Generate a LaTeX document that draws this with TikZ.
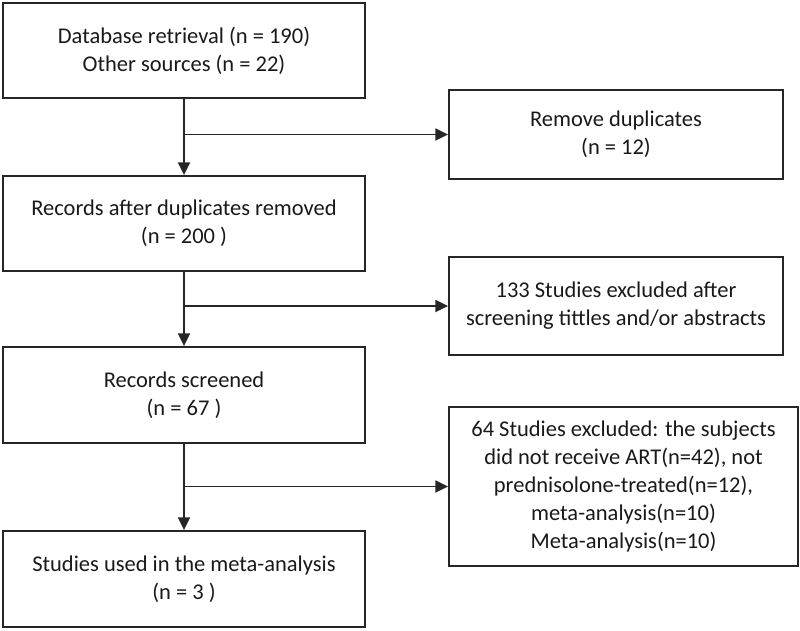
\documentclass[tikz,border=0pt]{standalone}
\usepackage{fontspec}
\setmainfont{Carlito}
\usepackage{tikz}
\usetikzlibrary{arrows.meta, positioning, calc}

\tikzset{
  flowbox/.style={rectangle,draw=black!85,line width=1.3pt,align=center,
    font=\fontsize{16}{20}\selectfont,text=black!90,inner sep=2pt},
  flowarrow/.style={draw=black!85,line width=1.3pt,-{Triangle[length=0.32cm,width=0.3cm]}}
}

\begin{document}
\begin{tikzpicture}
    \useasboundingbox (0,0) rectangle (20,-15.75);

    % Main column
    \node[flowbox,minimum width=9.05cm,minimum height=2.375cm] (retrieval) at (4.6,-1.2625) {
        Database retrieval (n = 190) \\
        Other sources (n = 22)
    };
    \node[flowbox,minimum width=9.05cm,minimum height=2.375cm] (records) at (4.6,-5.5875) {
        Records after duplicates removed \\
        (n = 200 )
    };
    \node[flowbox,minimum width=9.05cm,minimum height=2.4cm] (screened) at (4.6,-9.875) {
        Records screened \\
        (n = 67 )
    };
    \node[flowbox,minimum width=9.05cm,minimum height=2.4cm] (included) at (4.6,-14.475) {
        Studies used in the meta-analysis \\
        (n = 3 )
    };

    % Exclusion column
    \node[flowbox,minimum width=8.35cm,minimum height=2.225cm] (duplicates) at (15.4,-3.3625) {
        Remove duplicates \\
        (n = 12)
    };
    \node[flowbox,minimum width=8.35cm,minimum height=2.45cm] (excludedA) at (15.4,-7.65) {
        133 Studies excluded after \\
        screening tittles and/or abstracts
    };
    \node[flowbox,minimum width=8.725cm,minimum height=3.975cm] (excludedB) at (15.5875,-12.1625) {
        64 Studies excluded: the subjects \\
        did not receive ART(n=42), not \\
        prednisolone-treated(n=12), \\
        meta-analysis(n=10) \\
        Meta-analysis(n=10)
    };

    % Connectors
    \draw[flowarrow] (retrieval) -- (records);
    \draw[flowarrow] (records) -- (screened);
    \draw[flowarrow] (screened) -- (included);
    \draw[flowarrow] (retrieval.south |- duplicates.west) -- (duplicates.west);
    \draw[flowarrow] (records.south |- excludedA.west) -- (excludedA.west);
    \draw[flowarrow] (screened.south |- excludedB.west) -- (excludedB.west);
\end{tikzpicture}
\end{document}
